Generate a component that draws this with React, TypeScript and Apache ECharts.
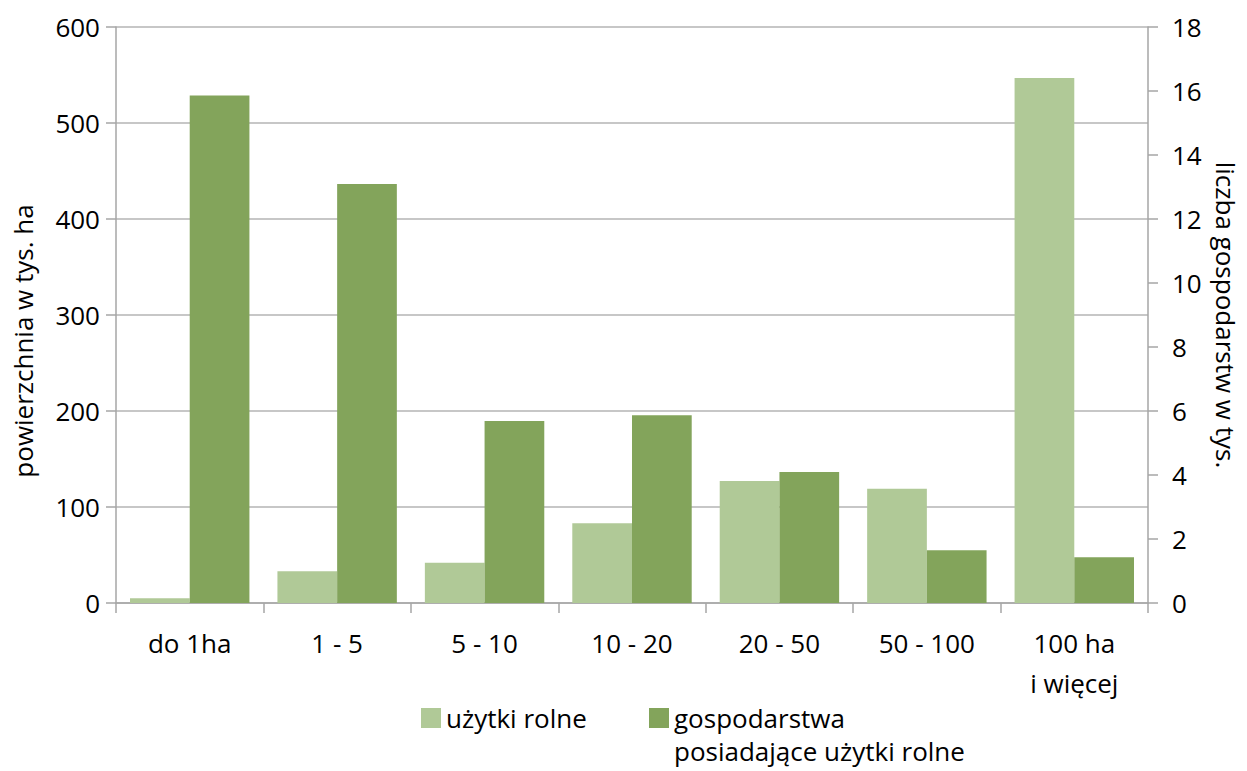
import React, { useEffect, useRef } from "react";
import * as echarts from "echarts";

const categories = ["do 1ha", "1 - 5", "5 - 10", "10 - 20", "20 - 50", "50 - 100", "100 ha\ni więcej"];
const seriesNames = ["użytki rolne", "gospodarstwa\nposiadające użytki rolne"];
const uzytkiRolne = [5, 33, 42, 83, 127, 119, 547];
const gospodarstwa = [15.86, 13.09, 5.69, 5.87, 4.09, 1.65, 1.43];
const leftAxisName = "powierzchnia w tys. ha";
const rightAxisName = "liczba gospodarstw w tys.";

const FONT = "'Open Sans', sans-serif";
const FS = 26;
const LIGHT = "#b0c997";
const DARK = "#83a45b";
const AXIS = "#a6a6a6";
const GRID = "#b5b5b5";

const legendBase = {
  orient: "horizontal",
  padding: 0,
  itemWidth: 20,
  itemHeight: 20,
  icon: "rect",
  textStyle: { fontFamily: FONT, fontSize: FS, color: "#000", lineHeight: 33 },
};

export default function App() {
  const ref = useRef<HTMLDivElement>(null);
  useEffect(() => {
    if (!ref.current) return;
    const chart = echarts.init(ref.current, undefined, { renderer: "svg" });
    chart.setOption({
      animation: false,
      backgroundColor: "#ffffff",
      textStyle: { fontFamily: FONT, color: "#000" },
      grid: { left: 116, right: 99, top: 27, bottom: 168, containLabel: false },
      legend: [
        { ...legendBase, left: 421, top: 701.5, data: [seriesNames[0]] },
        {
          ...legendBase,
          left: 649,
          top: 668.5,
          data: [seriesNames[1]],
          formatter: (name: string) => "\n" + name,
        },
      ],
      xAxis: {
        type: "category",
        data: categories,
        axisLine: { lineStyle: { color: AXIS, width: 1.5 } },
        axisTick: { show: true, alignWithLabel: false, length: 10, lineStyle: { color: AXIS, width: 1.5 } },
        axisLabel: { fontFamily: FONT, fontSize: FS, color: "#000", margin: 20, lineHeight: 40, interval: 0 },
      },
      yAxis: [
        {
          type: "value",
          min: 0,
          max: 600,
          interval: 100,
          name: leftAxisName,
          nameLocation: "middle",
          nameRotate: 90,
          nameGap: 80,
          nameTextStyle: { fontFamily: FONT, fontSize: FS, color: "#000", padding: [0, 52, 0, 0] },
          axisLine: { show: true, lineStyle: { color: AXIS, width: 1.5 } },
          axisTick: { show: true, length: 10, lineStyle: { color: AXIS, width: 1.5 } },
          axisLabel: { fontFamily: FONT, fontSize: FS, color: "#000", margin: 16 },
          splitLine: { show: true, lineStyle: { color: GRID, width: 1.5 } },
        },
        {
          type: "value",
          min: 0,
          max: 18,
          interval: 2,
          position: "right",
          name: rightAxisName,
          nameLocation: "middle",
          nameRotate: -90,
          nameGap: 62,
          nameTextStyle: { fontFamily: FONT, fontSize: FS, color: "#000" },
          axisLine: { show: true, lineStyle: { color: AXIS, width: 1.5 } },
          axisTick: { show: true, length: 10, lineStyle: { color: AXIS, width: 1.5 } },
          axisLabel: { fontFamily: FONT, fontSize: FS, color: "#000", margin: 24 },
          splitLine: { show: false },
        },
      ],
      series: [
        {
          name: seriesNames[0],
          type: "bar",
          yAxisIndex: 0,
          data: uzytkiRolne,
          itemStyle: { color: LIGHT },
          barGap: "0%",
          barCategoryGap: "19%",
        },
        {
          name: seriesNames[1],
          type: "bar",
          yAxisIndex: 1,
          data: gospodarstwa,
          itemStyle: { color: DARK },
          barGap: "0%",
          barCategoryGap: "19%",
        },
      ],
    });
    return () => chart.dispose();
  }, []);
  return <div ref={ref} style={{ position: "fixed", left: 0, top: 0, width: 1247, height: 771 }} />;
}
